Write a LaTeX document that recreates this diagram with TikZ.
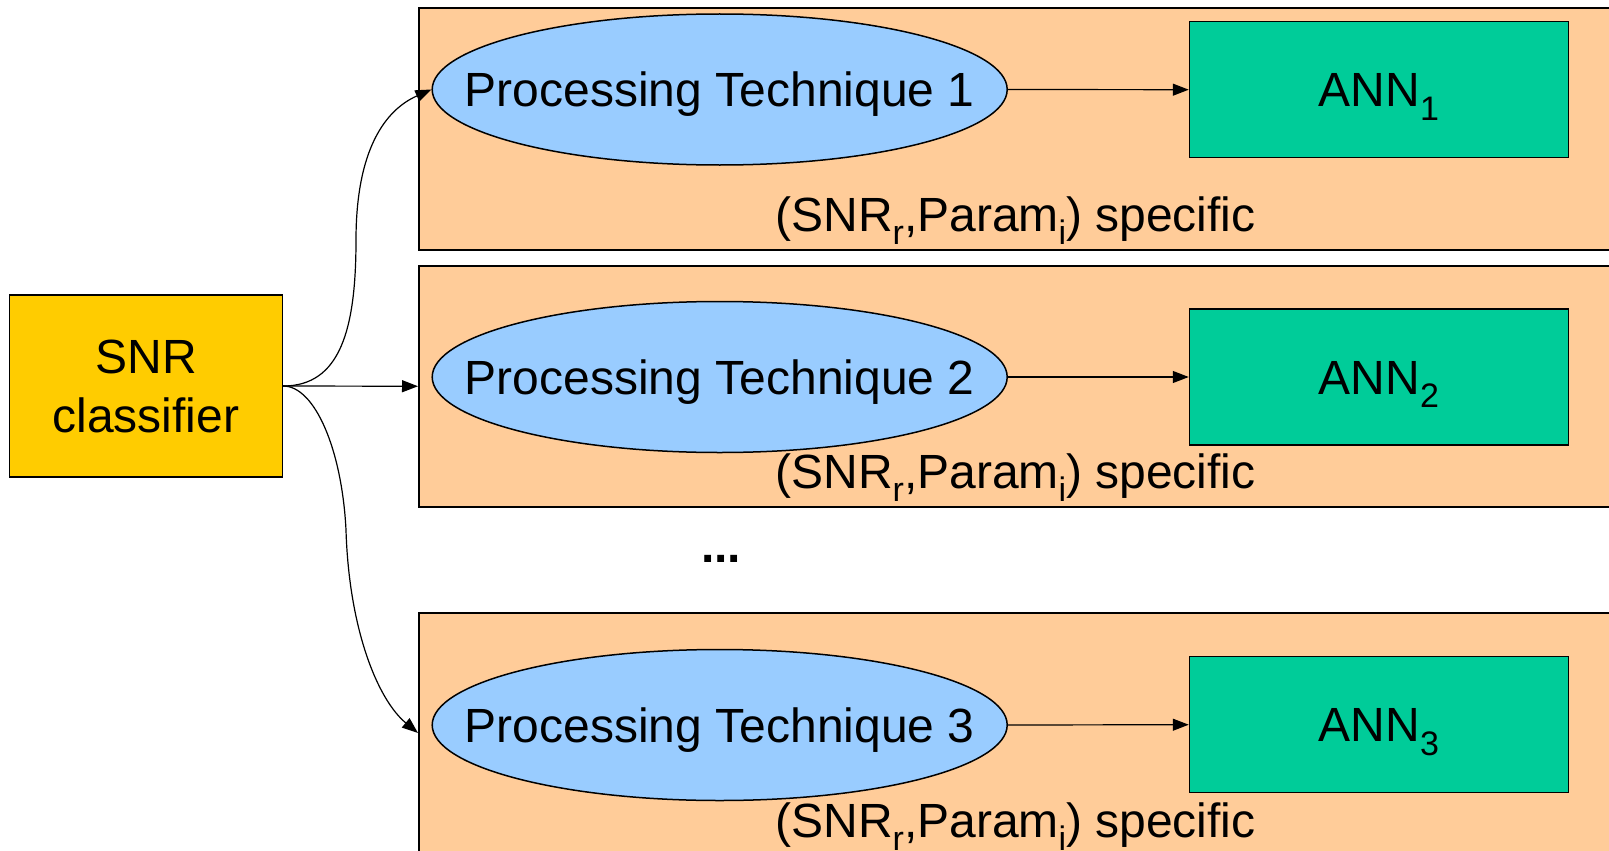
\documentclass[tikz,border=0pt]{standalone}
\usepackage{fontspec}
\setmainfont{Liberation Sans}
\usetikzlibrary{shapes.geometric,arrows.meta}
\newcommand\sbs[1]{\raisebox{-0.28em}{\fontsize{34}{34}\selectfont #1}}
\definecolor{panelc}{HTML}{FFCC99}
\definecolor{ellc}{HTML}{99CCFF}
\definecolor{annc}{HTML}{00CC99}
\definecolor{snrc}{HTML}{FFCC00}
\begin{document}
\begin{tikzpicture}[x=1pt,y=-1pt,
  font=\fontsize{48}{59}\selectfont,
  panel/.style={draw,line width=1.5pt,fill=panelc,rectangle,anchor=north west,minimum width=1240pt,inner sep=0pt},
  tech/.style={draw,line width=1.5pt,fill=ellc,ellipse,minimum width=575pt,minimum height=151pt,inner sep=0pt},
  ann/.style={draw,line width=1.5pt,fill=annc,rectangle,minimum width=379pt,minimum height=136pt,inner sep=0pt,text height=34.5pt,text depth=0pt},
  lab/.style={text height=34.5pt,text depth=0pt,inner sep=0pt},
  arr/.style={line width=1.2pt,-{Triangle[length=16pt,width=12pt]}},
  spec/.style={anchor=base,inner sep=0pt}]
\useasboundingbox (0,0) rectangle (1609,851);
\clip (0,0) rectangle (1609,851);
% panels
\node[panel,minimum height=242pt] (p1) at (418,7.3) {};
\node[panel,minimum height=241pt] (p2) at (418,265) {};
\node[panel,minimum height=260pt] (p3) at (418,612.3) {};
% processing techniques
\node[tech,label={[lab]center:Processing Technique 1}] (e1) at (719.7,89.5) {};
\node[tech,label={[lab]center:Processing Technique 2}] (e2) at (719.7,377) {};
\node[tech,label={[lab]center:Processing Technique 3}] (e3) at (719.7,725) {};
% ANNs
\node[ann] (a1) at (1379,89.7) {ANN\sbs{1}};
\node[ann] (a2) at (1379,377) {ANN\sbs{2}};
\node[ann] (a3) at (1379,724.7) {ANN\sbs{3}};
% SNR classifier
\node[draw,line width=1.5pt,fill=snrc,minimum width=272.8pt,minimum height=182pt,inner sep=0pt,align=center] (snr) at (146,386) {SNR\\classifier};
% specific labels
\node[spec] (s1) at (1015.5,231) {(SNR\sbs{r},Param\sbs{i}) specific};
\node[spec] (s2) at (1015.5,488) {(SNR\sbs{r},Param\sbs{i}) specific};
\node[spec] (s3) at (1015.5,837) {(SNR\sbs{r},Param\sbs{i}) specific};
\node[anchor=base,inner sep=0pt] (dots) at (721,562) {\textbf{...}};
% connectors
\coordinate (c3) at (418,733);
\draw[arr] (snr.east) -- (p2.west);
\draw[arr] (snr.east) .. controls (340,386) and (356,330) .. (356,240)
  .. controls (356,150) and (385,110) .. (e1.west);
\draw[arr] (snr.east) .. controls (315,386) and (342,450) .. (346,530)
  .. controls (349,630) and (378,700) .. (c3);
\draw[arr] (e1.east) -- (a1.west);
\draw[arr] (e2.east) -- (a2.west);
\draw[arr] (e3.east) -- (a3.west);
\end{tikzpicture}
\end{document}
